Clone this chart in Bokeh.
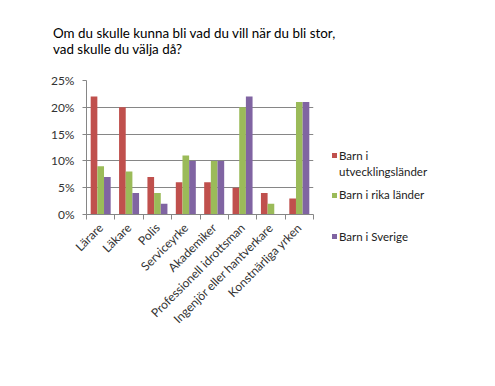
import math
from bokeh.plotting import figure
from bokeh.layouts import column, row
from bokeh.models import (ColumnDataSource, FixedTicker, NumeralTickFormatter, Range1d, Div)
from bokeh.embed import file_html
from bokeh.resources import INLINE

categories = ["Lärare", "Läkare", "Polis", "Serviceyrke", "Akademiker",
              "Professionell idrottsman", "Ingenjör eller hantverkare", "Konstnärliga yrken"]
dev_countries = [0.22, 0.20, 0.07, 0.06, 0.06, 0.05, 0.04, 0.03]
rich_countries = [0.09, 0.08, 0.04, 0.11, 0.10, 0.20, 0.02, 0.21]
sweden = [0.07, 0.04, 0.02, 0.10, 0.10, 0.22, 0.00, 0.21]
series_names = [["Barn i", "utvecklingsländer"], ["Barn i rika länder"], ["Barn i Sverige"]]
colors = ["#C0504D", "#9BBB59", "#8064A2"]
y_ticks = [0, 0.05, 0.10, 0.15, 0.20, 0.25]
title_lines = ["Om du skulle kunna bli vad du vill när du bli stor,", "vad skulle du välja då?"]

FONT = "Lato"
TITLE_H = 62
MAIN_W = 320
BODY_H = 386 - TITLE_H

# ---- title ----
title = Div(text="<br>".join(title_lines), width=495, height=TITLE_H, margin=0,
            styles={"font-family": FONT, "font-size": "13.4px", "line-height": "16px",
                    "color": "#000000", "padding-top": "25px", "padding-left": "53px",
                    "box-sizing": "border-box"})

# ---- main chart ----
p = figure(width=MAIN_W, height=BODY_H, output_backend="svg", toolbar_location=None,
           x_range=Range1d(0, len(categories)), y_range=Range1d(0, 0.25),
           min_border_left=86, min_border_right=7, min_border_top=18, min_border_bottom=172)
p.outline_line_color = None

centers = [i + 0.5 for i in range(len(categories))]
bw = 0.235
for k, (vals, col) in enumerate(zip([dev_countries, rich_countries, sweden], colors)):
    src = ColumnDataSource(dict(x=[c + (k - 1) * bw for c in centers], top=vals))
    p.vbar(x="x", top="top", width=bw, source=src, fill_color=col, line_color=None)

p.xaxis.ticker = FixedTicker(ticks=centers, minor_ticks=list(range(len(categories) + 1)))
p.xaxis.major_label_overrides = {c: n for c, n in zip(centers, categories)}
p.xaxis.major_tick_out = 0
p.xaxis.major_tick_in = 0
p.xaxis.minor_tick_out = 5
p.xaxis.minor_tick_in = 0
p.xaxis.major_label_orientation = math.pi / 4
p.xaxis.axis_line_color = "#868686"
p.xaxis.minor_tick_line_color = "#868686"
p.xaxis.major_label_text_font = FONT
p.xaxis.major_label_text_font_size = "12px"
p.xaxis.major_label_text_color = "#333333"
p.xaxis.major_label_standoff = 6
p.xgrid.grid_line_color = None

p.yaxis.ticker = FixedTicker(ticks=y_ticks)
p.yaxis.formatter = NumeralTickFormatter(format="0%")
p.yaxis.axis_line_color = "#868686"
p.yaxis.major_tick_line_color = "#868686"
p.yaxis.major_tick_out = 4
p.yaxis.major_tick_in = 0
p.yaxis.minor_tick_line_color = None
p.yaxis.major_label_text_font = FONT
p.yaxis.major_label_text_font_size = "12px"
p.yaxis.major_label_text_color = "#333333"
p.yaxis.major_label_standoff = 8
p.ygrid.grid_line_color = "#868686"

# ---- legend (HTML, to the right of the plot) ----
key_tops = [155.5, 195.0, 236.5]   # page y of each key's first line centre
LINE_H = 16.5
parts = []
for names, col, cy in zip(series_names, colors, key_tops):
    top = cy - TITLE_H
    parts.append(f'<div style="position:absolute;left:12px;top:{top - 2.5:.1f}px;'
                 f'width:5px;height:5px;background:{col};"></div>')
    for j, line in enumerate(names):
        parts.append(f'<div style="position:absolute;left:19px;top:{top - 7 + j * LINE_H:.1f}px;'
                     f'line-height:14px;white-space:nowrap;">{line}</div>')
legend_html = ('<div style="position:relative;width:175px;height:%dpx;">' % BODY_H
               + "".join(parts) + "</div>")
legend = Div(text=legend_html, width=495 - MAIN_W, height=BODY_H, margin=0,
             styles={"font-family": FONT, "font-size": "11.5px", "color": "#222222"})

layout = column(title, row(p, legend, spacing=0), spacing=0)
open("out.html", "w").write(file_html(layout, INLINE))
